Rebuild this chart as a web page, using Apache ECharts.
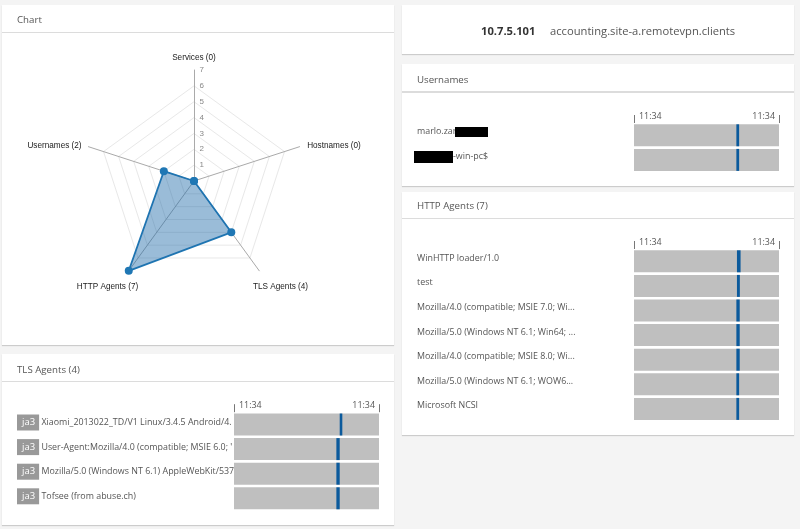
<!DOCTYPE html>
<html>
<head>
<meta charset="utf-8">
<title>Chart</title>
<script src="https://cdn.jsdelivr.net/npm/echarts@6/dist/echarts.min.js"></script>
<style>
  html, body { margin: 0; padding: 0; background: #f4f4f4; }
  #main { width: 800px; height: 529px; }
</style>
</head>
<body>
<div id="main"></div>
<script>
// radar, listed the way echarts walks round (counter clockwise from the top)
var radarNames = ['Services (0)', 'Usernames (2)', 'HTTP Agents (7)', 'TLS Agents (4)', 'Hostnames (0)'];
var radarValues = [0, 2, 7, 4, 0];
var radarMax = 7;

// timeline rows, start and width are % of the axis
var tlsLabels = [
  '{ja3|ja3} Xiaomi_2013022_TD/V1 Linux/3.4.5 Android/4.',
  '{ja3|ja3} User-Agent:Mozilla/4.0 (compatible; MSIE 6.0; \'',
  '{ja3|ja3} Mozilla/5.0 (Windows NT 6.1) AppleWebKit/537',
  '{ja3|ja3} Tofsee (from abuse.ch)'
];
var tlsStart = [72.9, 70.6, 70.6, 70.6];
var tlsWidth = [1.8, 2.3, 2.3, 2.3];

var userLabels = ['marlo.zar', '{gap|}-win-pc$'];
var userStart = [70.6, 70.6];
var userWidth = [1.9, 1.9];

var httpLabels = [
  'WinHTTP loader/1.0',
  'test',
  'Mozilla/4.0 (compatible; MSIE 7.0; Wi...',
  'Mozilla/5.0 (Windows NT 6.1; Win64; ...',
  'Mozilla/4.0 (compatible; MSIE 8.0; Wi...',
  'Mozilla/5.0 (Windows NT 6.1; WOW6...',
  'Microsoft NCSI'
];
var httpStart = [71, 71, 70.6, 70.6, 70.6, 70.6, 70.6];
var httpWidth = [2.5, 2, 2.3, 2.3, 2.3, 1.9, 1.9];

var timeLabels = ['11:34', '11:34'];

var fontUi = '"Open Sans", sans-serif';
var textGray = '#555';

var chart = echarts.init(document.getElementById('main'));

var grids = [], xAxes = [], yAxes = [], series = [];

function addTimeline(left, top, labels, start, width, labelLift) {
  var idx = grids.length;
  grids.push({ left: left, top: top, width: 145, height: labels.length * 24.6 });
  xAxes.push({
    gridIndex: idx,
    type: 'value',
    position: 'top',
    min: 0,
    max: 100,
    splitLine: { show: false },
    axisLine: { show: false },
    axisTick: { show: true, length: 8, customValues: [0, 100], lineStyle: { color: '#777' } },
    axisLabel: {
      show: true,
      customValues: [0, 100],
      margin: 2,
      alignMinLabel: 'left',
      alignMaxLabel: 'right',
      padding: [0, 4, 0, 5],
      color: textGray,
      fontFamily: fontUi,
      fontSize: 8.9,
      formatter: function (v) { return timeLabels[v === 0 ? 0 : 1]; }
    }
  });
  yAxes.push({
    gridIndex: idx,
    type: 'category',
    inverse: true,
    data: labels,
    axisLine: { show: false },
    axisTick: { show: false },
    axisLabel: {
      margin: 217,
      align: 'left',
      padding: [0, 0, labelLift, 0],
      color: textGray,
      fontFamily: fontUi,
      fontSize: 8.9,
      rich: {
        ja3: {
          backgroundColor: '#999',
          color: '#fff',
          fontFamily: fontUi,
          fontSize: 9.5,
          padding: [3, 4, 3, 5]
        },
        gap: { width: 36 }
      }
    }
  });
  // invisible offset carries the gray row, the second bar is the blue activity mark
  series.push({
    type: 'bar', xAxisIndex: idx, yAxisIndex: idx, stack: 't' + idx, silent: true,
    barWidth: 22,
    data: start,
    itemStyle: { color: 'transparent' },
    showBackground: true,
    backgroundStyle: { color: '#bfbfbf' }
  });
  series.push({
    type: 'bar', xAxisIndex: idx, yAxisIndex: idx, stack: 't' + idx, silent: true,
    barWidth: 22,
    data: width,
    itemStyle: { color: '#0b5a9c' }
  });
}

addTimeline(234, 412.2, tlsLabels, tlsStart, tlsWidth, 4);
addTimeline(634, 123, userLabels, userStart, userWidth, 7);
addTimeline(634, 249, httpLabels, httpStart, httpWidth, 6);

function panel(x, y, w, h, lineY, lineW) {
  return [
    { type: 'rect', z: -5, shape: { x: x, y: y, width: w, height: h }, style: { fill: '#fff', shadowBlur: 1, shadowColor: '#ccc', shadowOffsetY: 1 } },
    lineY ? { type: 'rect', z: -4, shape: { x: x, y: lineY, width: w, height: lineW || 1 }, style: { fill: '#dcdcdc' } } : null
  ].filter(Boolean);
}

function heading(text, left, top) {
  return { text: text, left: left, top: top, padding: 0, textStyle: { fontFamily: fontUi, fontSize: 9.7, fontWeight: 'normal', color: textGray } };
}

// spoke captions sit off the default anchor, so they are placed by hand
function spokeName(i, x, y) {
  return {
    type: 'text', z: 50, x: x, y: y,
    style: { text: radarNames[i], fill: '#222', font: '8.2px "Liberation Sans"', textAlign: 'center', textVerticalAlign: 'middle' }
  };
}

var option = {
  backgroundColor: '#f4f4f4',
  animation: false,
  title: [
    heading('Chart', 17, 15),
    heading('TLS Agents (4)', 17, 365),
    heading('Usernames', 417, 75),
    heading('HTTP Agents (7)', 417, 201),
    { text: 'accounting.site-a.remotevpn.clients', left: 550, top: 26, padding: 0, textStyle: { fontFamily: fontUi, fontSize: 11.2, fontWeight: 'normal', color: textGray } },
    { text: '10.7.5.101', left: 481, top: 26, padding: 0, textStyle: { fontFamily: fontUi, fontSize: 11.2, fontWeight: 'bold', color: '#333' } }
  ],
  graphic: { elements: [].concat(
    panel(2, 5, 392, 340, 32),
    panel(2, 354, 392, 171, 381),
    panel(402, 5, 392, 49),
    panel(402, 64, 392, 122, 91, 2),
    panel(402, 192, 392, 243, 218),
    [
      { type: 'rect', z: 100, shape: { x: 455, y: 127, width: 33, height: 10 }, style: { fill: '#000' } },
      { type: 'rect', z: 100, shape: { x: 414, y: 151, width: 39, height: 12 }, style: { fill: '#000' } },
      spokeName(0, 194, 58),
      spokeName(1, 54.5, 146),
      spokeName(2, 107.5, 287),
      spokeName(3, 280.5, 287),
      spokeName(4, 334, 146)
    ]
  ) },
  radar: {
    center: [194, 181],
    radius: 111,
    startAngle: 90,
    splitNumber: radarMax,
    shape: 'polygon',
    indicator: radarNames.map(function (name, i) {
      var item = { name: name, min: 0, max: radarMax };
      // only the top spoke carries the scale
      if (i === 0) {
        item.axisLabel = {
          show: true, showMinLabel: false, color: '#888', fontSize: 8,
          fontFamily: 'Liberation Sans', margin: -10, padding: [0, 0, 9, 0]
        };
      }
      return item;
    }),
    axisName: { show: false },
    axisLine: { lineStyle: { color: '#aaa', width: 1 } },
    axisTick: { show: false },
    axisLabel: { show: false },
    splitArea: { show: false },
    splitLine: { lineStyle: { width: 1, color: ['#e8e8e8', '#e8e8e8', '#e8e8e8', '#e8e8e8', '#e8e8e8', '#e8e8e8', '#e8e8e8', 'rgba(0,0,0,0)'] } }
  },
  grid: grids,
  xAxis: xAxes,
  yAxis: yAxes,
  series: [{
    type: 'radar',
    symbol: 'circle',
    symbolSize: 8,
    itemStyle: { color: '#1f77b4' },
    lineStyle: { color: '#1f77b4', width: 1.8 },
    areaStyle: { color: '#1f6aa8', opacity: 0.45 },
    data: [{ value: radarValues }]
  }].concat(series)
};

chart.setOption(option);
</script>
</body>
</html>
